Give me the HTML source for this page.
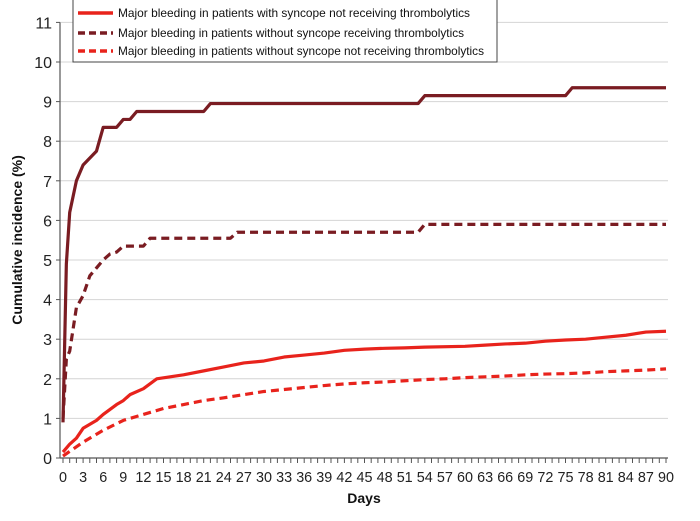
<!DOCTYPE html>
<html><head><meta charset="utf-8"><style>
body{margin:0;background:#fff;}
svg{display:block;font-family:"Liberation Sans",Arial,sans-serif;}
</style></head><body>
<svg id="chart" width="700" height="521">
<g id="grid"></g>
<g id="axes"></g>
<g id="series"></g>
<text x="22" y="240" transform="rotate(-90 22 240)" text-anchor="middle" font-size="14" font-weight="bold" fill="#111">Cumulative incidence (%)</text>
<text x="364" y="503" text-anchor="middle" font-size="14" font-weight="bold" fill="#111">Days</text>
<g>
<rect x="73" y="-2" width="424" height="64" fill="#fff" stroke="#444" stroke-width="1"/>
<g><line x1="78" y1="13" x2="113" y2="13" stroke="#e8231c" stroke-width="3.5"/><text x="118" y="17" font-size="12" textLength="352" lengthAdjust="spacingAndGlyphs" fill="#111">Major bleeding in patients with syncope not receiving thrombolytics</text></g>
<g><line x1="78" y1="33" x2="113" y2="33" stroke="#7a1c22" stroke-width="3.5" stroke-dasharray="7,4"/><text x="118" y="37" font-size="12" textLength="346" lengthAdjust="spacingAndGlyphs" fill="#111">Major bleeding in patients without syncope receiving thrombolytics</text></g>
<g><line x1="78" y1="51" x2="113" y2="51" stroke="#e8231c" stroke-width="3.5" stroke-dasharray="7,4"/><text x="118" y="55" font-size="12" textLength="366" lengthAdjust="spacingAndGlyphs" fill="#111">Major bleeding in patients without syncope not receiving thrombolytics</text></g>
</g>
</svg>
<script>
const yTicks=[0,1,2,3,4,5,6,7,8,9,10,11];
const xTickLabels=[0,3,6,9,12,15,18,21,24,27,30,33,36,39,42,45,48,51,54,57,60,63,66,69,72,75,78,81,84,87,90];
const darkSolidDays=[0,0.5,1,2,3,5,6,7,8,9,10,11,21,22,53,54,75,76,90];
const darkSolidVals=[0.9,4.9,6.2,7.0,7.4,7.75,8.35,8.35,8.35,8.55,8.55,8.75,8.75,8.95,8.95,9.15,9.15,9.35,9.35];
const darkDashDays=[0,0.5,1,2,3,4,5,6,7,8,9,12,13,25,26,53,54,90];
const darkDashVals=[1.0,2.5,2.7,3.8,4.1,4.6,4.8,5.0,5.15,5.2,5.35,5.35,5.55,5.55,5.7,5.7,5.9,5.9];
const redSolidDays=[0,1,2,3,5,6,8,9,10,12,14,16,18,21,24,27,30,33,36,39,42,45,48,51,54,60,63,66,69,72,75,78,81,84,87,90];
const redSolidVals=[0.15,0.35,0.5,0.75,0.95,1.1,1.35,1.45,1.6,1.75,2.0,2.05,2.1,2.2,2.3,2.4,2.45,2.55,2.6,2.65,2.72,2.75,2.77,2.78,2.8,2.82,2.85,2.88,2.9,2.95,2.98,3.0,3.05,3.1,3.18,3.2];
const redDashDays=[0,3,6,9,12,15,18,21,24,27,30,33,36,39,42,45,48,51,54,57,60,63,66,69,72,75,78,81,84,87,90];
const redDashVals=[0.05,0.4,0.7,0.95,1.1,1.25,1.35,1.45,1.52,1.6,1.68,1.73,1.78,1.83,1.87,1.9,1.92,1.95,1.98,2.0,2.03,2.05,2.07,2.1,2.12,2.13,2.15,2.18,2.2,2.22,2.25];

const NS="http://www.w3.org/2000/svg";
const x=d=>63+d*(666-63)/90;
const y=v=>458-v*39.6;
function mk(tag,attrs,parent){const e=document.createElementNS(NS,tag);for(const k in attrs)e.setAttribute(k,attrs[k]);parent.appendChild(e);return e;}
const grid=document.getElementById('grid'),axes=document.getElementById('axes'),series=document.getElementById('series');
yTicks.forEach(v=>{
  if(v>0){const g=mk('line',{x1:60,x2:668,y1:y(v),y2:y(v),stroke:'#d4d4d4','stroke-width':1},grid);
  
  }
  const t=mk('text',{x:52,y:y(v)+6,'text-anchor':'end','font-size':16,fill:'#222'},axes);
  t.textContent=v;
  
  
  mk('line',{x1:56,x2:60,y1:y(v),y2:y(v),stroke:'#555'},axes);
});
const ya=mk('line',{x1:60,x2:60,y1:y(11),y2:y(0),stroke:'#555','stroke-width':1.2},axes);


const xa=mk('line',{x1:60,x2:668,y1:y(0),y2:y(0),stroke:'#555','stroke-width':1.2},axes);


for(let d=0;d<=90;d++)mk('line',{x1:x(d),x2:x(d),y1:y(0),y2:y(0)+5,stroke:'#555'},axes);
xTickLabels.forEach(d=>{
  const t=mk('text',{x:x(d),y:482,'text-anchor':'middle','font-size':15,fill:'#222',textLength:String(d).length*8,lengthAdjust:'spacingAndGlyphs'},axes);
  t.textContent=d;
  
  
});
function line(days,vals,color,dash,name){
  const p=mk('polyline',{points:days.map((d,i)=>x(d)+','+y(vals[i])).join(' '),fill:'none',stroke:color,'stroke-width':3.2,'stroke-linejoin':'round'},series);
  if(dash)p.setAttribute('stroke-dasharray',dash);
  
  
}
line(redDashDays,redDashVals,'#e8231c','8,5','series-red-dashed');
line(redSolidDays,redSolidVals,'#e8231c',null,'series-red-solid');
line(darkDashDays,darkDashVals,'#7a1c22','8,5','series-dark-dashed');
line(darkSolidDays,darkSolidVals,'#7a1c22',null,'series-dark-solid');
</script>
</body></html>
